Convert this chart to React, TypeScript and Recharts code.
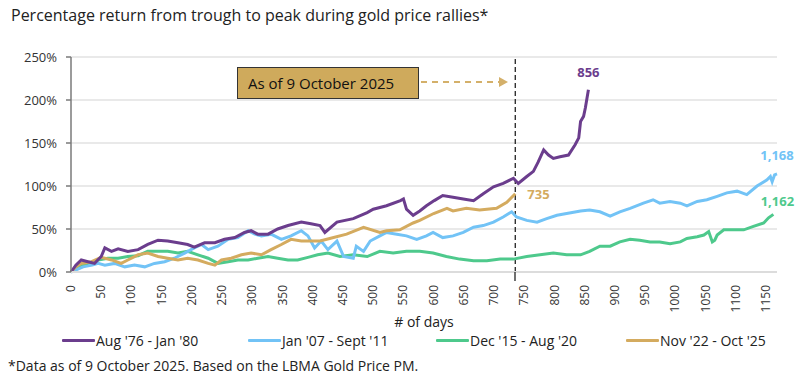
import React from 'react';
import {
  LineChart,
  Line,
  XAxis,
  YAxis,
  CartesianGrid,
  ReferenceLine,
} from 'recharts';

// days / % return, one pair of arrays per rally
const augDays = [0, 8, 17, 28, 39, 50, 56, 67, 78, 94, 111, 127, 144, 160, 177, 193, 204, 221, 238, 254, 271, 287, 298, 309, 326, 342, 359, 381, 397, 412, 420, 440, 467, 490, 500, 522, 545, 550, 555, 566, 577, 588, 601, 615, 632, 649, 666, 682, 699, 715, 732, 740, 754, 765, 773, 782, 790, 798, 809, 823, 834, 840, 843, 848, 851, 856];
const augVals = [0, 8, 14, 12, 10, 18, 28, 24, 27, 24, 26, 32, 37, 36, 34, 32, 29, 34, 34, 38, 40, 46, 48, 44, 44, 50, 54, 58, 56, 54, 46, 58, 62, 69, 73, 77, 83, 85, 73, 66, 71, 77, 83, 89, 87, 85, 83, 91, 99, 103, 109, 103, 111, 117, 128, 142, 136, 132, 134, 136, 148, 156, 175, 181, 191, 212];

const janDays = [0, 20, 35, 45, 56, 72, 89, 105, 122, 138, 155, 171, 188, 204, 216, 227, 243, 260, 276, 293, 304, 315, 331, 348, 364, 381, 392, 403, 414, 425, 440, 451, 467, 472, 484, 495, 511, 522, 539, 555, 572, 588, 599, 615, 632, 649, 666, 682, 699, 715, 729, 737, 754, 771, 787, 804, 820, 843, 858, 875, 892, 908, 925, 947, 963, 974, 991, 1008, 1019, 1036, 1052, 1069, 1085, 1102, 1118, 1135, 1151, 1157, 1160, 1164, 1168];
const janVals = [0, 6, 8, 10, 8, 10, 6, 8, 6, 10, 12, 16, 22, 28, 32, 26, 30, 38, 40, 48, 44, 42, 44, 38, 42, 48, 42, 28, 36, 26, 36, 18, 16, 30, 24, 36, 42, 46, 44, 42, 38, 42, 46, 40, 42, 46, 52, 54, 58, 64, 70, 64, 60, 58, 62, 66, 68, 71, 72, 70, 65, 70, 74, 80, 84, 80, 82, 80, 77, 82, 84, 88, 92, 94, 90, 100, 107, 111, 105, 113, 114];

const decDays = [0, 14, 28, 45, 61, 78, 94, 111, 127, 144, 160, 177, 193, 210, 227, 243, 260, 276, 293, 309, 326, 342, 359, 375, 392, 408, 425, 445, 467, 490, 511, 533, 555, 577, 599, 621, 643, 666, 688, 710, 732, 754, 776, 798, 820, 843, 858, 875, 892, 908, 925, 941, 958, 974, 991, 1008, 1019, 1036, 1047, 1055, 1061, 1065, 1069, 1080, 1096, 1113, 1129, 1146, 1154, 1162];
const decVals = [0, 6, 10, 14, 16, 16, 18, 19, 24, 24, 24, 22, 24, 20, 16, 10, 12, 14, 14, 16, 18, 16, 14, 14, 17, 20, 22, 18, 20, 18, 24, 22, 24, 24, 22, 18, 15, 13, 13, 15, 15, 18, 20, 22, 20, 20, 24, 30, 30, 35, 38, 37, 35, 35, 33, 35, 39, 41, 43, 47, 35, 37, 43, 49, 49, 49, 53, 57, 63, 67];

const novDays = [0, 8, 17, 34, 50, 67, 83, 94, 111, 127, 144, 160, 177, 193, 210, 227, 238, 249, 265, 282, 298, 315, 331, 348, 364, 381, 397, 412, 428, 456, 484, 511, 522, 544, 566, 577, 600, 622, 632, 654, 676, 704, 721, 728, 735];
const novVals = [0, 6, 10, 12, 17, 14, 10, 14, 20, 22, 18, 16, 14, 16, 14, 10, 8, 14, 16, 20, 22, 20, 26, 32, 38, 36, 36, 36, 39, 44, 52, 46, 48, 49, 57, 60, 68, 74, 71, 74, 72, 74, 81, 86, 91];

const xTicks = [0, 50, 100, 150, 200, 250, 300, 350, 400, 450, 500, 550, 600, 650, 700, 750, 800, 850, 900, 950, 1000, 1050, 1100, 1150];
const yTicks = [0, 50, 100, 150, 200, 250];

const series = [
  { name: "Aug '76 - Jan '80", days: augDays, vals: augVals, color: '#6b3d8d', end: '856' },
  { name: "Jan '07 - Sept '11", days: janDays, vals: janVals, color: '#72c3f6', end: '1,168' },
  { name: "Dec '15 - Aug '20", days: decDays, vals: decVals, color: '#4ec98c', end: '1,162' },
  { name: "Nov '22 - Oct '25", days: novDays, vals: novVals, color: '#d4ab5f', end: '735' },
];

const toRows = (days: number[], vals: number[]) => days.map((d, i) => ({ day: d, v: vals[i] }));

// where each end label sits relative to the last point
const endOffsets: Record<string, { dx: number; dy: number; anchor: string }> = {
  '856': { dx: 0, dy: -13, anchor: 'middle' },
  '735': { dx: 12, dy: 5, anchor: 'start' },
  '1,168': { dx: 0, dy: -14, anchor: 'middle' },
  '1,162': { dx: 4, dy: -8, anchor: 'middle' },
};

const makeEndLabel = (text: string, color: string, last: number) => (props: any) => {
  if (props.index !== last) return null;
  const o = endOffsets[text];
  return (
    <text
      x={props.x + o.dx}
      y={props.y + o.dy}
      textAnchor={o.anchor}
      fill={color}
      fontSize={13}
      fontWeight={700}
    >
      {text}
    </text>
  );
};

const DayTick = (props: any) => {
  const { x, y, payload } = props;
  return (
    <g transform={`translate(${x},${y + 11})`}>
      <text transform="rotate(-90)" textAnchor="end" dy={4} fontSize={12} fill="#333">
        {payload.value}
      </text>
    </g>
  );
};

const narrow = "'Liberation Sans Narrow', 'Open Sans', sans-serif";

export default function App() {
  const drawOrder = [series[2], series[1], series[3], series[0]];
  return (
    <div
      style={{
        position: 'absolute',
        left: 0,
        top: 0,
        width: 809,
        height: 379,
        background: '#fff',
        fontFamily: "'Open Sans', sans-serif",
        color: '#222',
      }}
    >
      <div style={{ position: 'absolute', left: 11, top: 4, fontSize: 16, lineHeight: '22px' }}>
        Percentage return from trough to peak during gold price rallies*
      </div>

      <div style={{ position: 'absolute', left: 0, top: 0 }}>
        <LineChart width={809} height={315} margin={{ top: 57, right: 32, bottom: 0, left: 0 }}>
          <CartesianGrid vertical={false} stroke="#e2e2e2" strokeWidth={1.5} />
          <XAxis
            type="number"
            dataKey="day"
            domain={[0, 1168]}
            ticks={xTicks}
            interval={0}
            height={43}
            tick={<DayTick />}
            tickLine={false}
            tickSize={0}
            stroke="#dcdcdc"
            strokeWidth={2}
          />
          <YAxis
            width={71}
            domain={[0, 250]}
            ticks={yTicks}
            interval={0}
            tickFormatter={(v: number) => `${v}%`}
            tick={{ fontSize: 13, fill: '#333' }}
            tickSize={5}
            tickMargin={9}
            stroke="#7a7a7a"
            strokeWidth={1.5}
          />
          <ReferenceLine x={735} stroke="#222" strokeDasharray="5 3" strokeWidth={1.3} />
          {drawOrder.map((s) => (
            <Line
              key={s.name}
              data={toRows(s.days, s.vals)}
              dataKey="v"
              name={s.name}
              type="linear"
              stroke={s.color}
              strokeWidth={3}
              dot={false}
              isAnimationActive={false}
              label={makeEndLabel(s.end, s.color, s.days.length - 1)}
            />
          ))}
        </LineChart>
      </div>

      {/* "as of" callout */}
      <div
        style={{
          position: 'absolute',
          left: 237,
          top: 67,
          width: 182,
          height: 32,
          background: '#cfaa5c',
          border: '1px solid #333',
          fontSize: 15,
          lineHeight: '30px',
          paddingLeft: 10,
          boxSizing: 'border-box',
          color: '#111',
        }}
      >
        As of 9 October 2025
      </div>
      <svg style={{ position: 'absolute', left: 0, top: 0 }} width={809} height={379} pointerEvents="none">
        <line x1={421} y1={82} x2={500} y2={82} stroke="#d4b06a" strokeWidth={2} strokeDasharray="6 5" />
        <polygon points="499,77 508,82 499,87" fill="#d4b06a" />
        <line x1={515} y1={272} x2={515} y2={281} stroke="#222" strokeWidth={1.3} />
      </svg>

      <div style={{ position: 'absolute', left: 71, width: 706, top: 312, textAlign: 'center', fontSize: 14, lineHeight: '20px' }}>
        # of days
      </div>

      {series.map((s, i) => (
        <div
          key={s.name}
          style={{
            position: 'absolute',
            left: [62, 248, 436, 626][i],
            top: 330,
            height: 20,
            display: 'flex',
            alignItems: 'center',
            fontFamily: narrow,
            fontSize: 14,
            color: '#222',
          }}
        >
          <div style={{ width: 33, height: 3, background: s.color, borderRadius: 1 }} />
          <span style={{ marginLeft: 1 }}>{s.name}</span>
        </div>
      ))}

      <div style={{ position: 'absolute', left: 8, top: 356, fontFamily: narrow, fontSize: 14, lineHeight: '20px' }}>
        *Data as of 9 October 2025. Based on the LBMA Gold Price PM.
      </div>
    </div>
  );
}
